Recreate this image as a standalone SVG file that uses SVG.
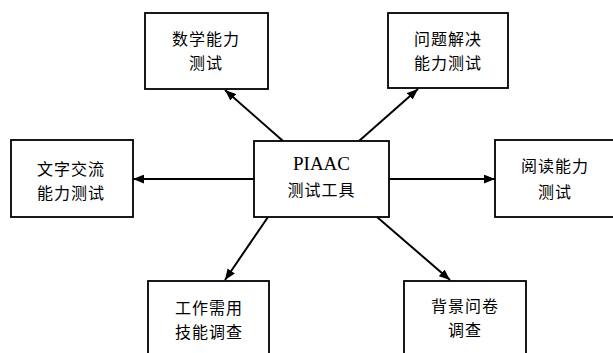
<svg xmlns="http://www.w3.org/2000/svg" width="613" height="353" viewBox="0 0 613 353">
<defs>
<marker id="ah" viewBox="0 0 10 8" refX="10" refY="4" markerWidth="11" markerHeight="9" markerUnits="userSpaceOnUse" orient="auto">
<path d="M0,0 L10,4 L0,8 Z" fill="#000"/>
</marker>
<style>
.box{fill:#fff;stroke:#000;stroke-width:1.8}
.t{font-family:"Noto Sans CJK SC","Noto Sans",sans-serif;font-size:16px;letter-spacing:1px;text-anchor:middle;fill:#000}
.e{font-family:"Liberation Serif","Noto Sans CJK SC",serif;font-size:19px;text-anchor:middle;fill:#000}
.c{stroke:#000;stroke-width:2;fill:none;marker-end:url(#ah)}
</style>
</defs>
<rect width="613" height="353" fill="#fff"/>
<g id="connectors">
<line class="c" x1="283" y1="141" x2="225" y2="90"/>
<line class="c" x1="359" y1="141" x2="418" y2="89"/>
<line class="c" x1="254" y1="179" x2="133" y2="179"/>
<line class="c" x1="389" y1="179" x2="495" y2="179"/>
<line class="c" x1="268" y1="217" x2="225" y2="280"/>
<line class="c" x1="377" y1="217" x2="450" y2="280"/>
</g>
<g id="math">
<rect class="box" x="145" y="13" width="123" height="76"/>
<text class="t" x="206" y="45">数学能力</text>
<text class="t" x="206" y="69">测试</text>
</g>
<g id="problem">
<rect class="box" x="388" y="13" width="120" height="75"/>
<text class="t" x="448" y="45">问题解决</text>
<text class="t" x="448" y="69">能力测试</text>
</g>
<g id="literacy-comm">
<rect class="box" x="11" y="140" width="122" height="77"/>
<text class="t" x="71" y="175">文字交流</text>
<text class="t" x="71" y="199">能力测试</text>
</g>
<g id="center">
<rect class="box" x="254" y="141" width="135" height="76"/>
<text class="e" x="321.5" y="170">PIAAC</text>
<text class="t" x="321.5" y="196">测试工具</text>
</g>
<g id="reading">
<rect class="box" x="495" y="140" width="125" height="77"/>
<text class="t" x="555" y="172">阅读能力</text>
<text class="t" x="555" y="198">测试</text>
</g>
<g id="work-skills">
<rect class="box" x="148" y="281" width="121" height="80"/>
<text class="t" x="209" y="314">工作需用</text>
<text class="t" x="209" y="338">技能调查</text>
</g>
<g id="background">
<rect class="box" x="404" y="281" width="122" height="80"/>
<text class="t" x="465" y="312">背景问卷</text>
<text class="t" x="465" y="336">调查</text>
</g>
</svg>
